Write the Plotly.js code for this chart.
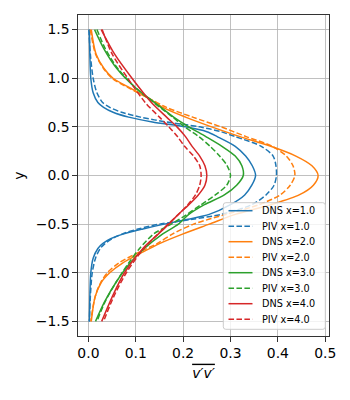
<!DOCTYPE html>
<html>
<head>
<meta charset="utf-8">
<script src="https://cdn.plot.ly/plotly-3.0.1.min.js"></script>
<style>html,body{margin:0;padding:0;background:#fff;}#chart{width:350px;height:400px;}</style>
</head>
<body>
<div id="chart"></div>
<script>
// ---- data ----
const seriesNames = ['DNS x=1.0','PIV x=1.0','DNS x=2.0','PIV x=2.0','DNS x=3.0','PIV x=3.0','DNS x=4.0','PIV x=4.0'];

const y_x1 = [1.5,1.25,1.0,0.85,0.75,0.7,0.65,0.6,0.55,0.5,0.45,0.4,0.3,0.2,0.1,0,-0.1,-0.2,-0.3,-0.4,-0.45,-0.5,-0.55,-0.6,-0.65,-0.7,-0.75,-0.85,-1.0,-1.25,-1.5];
const dns_x1 = [0.002,0.003,0.005,0.01,0.02,0.032,0.052,0.085,0.135,0.205,0.25,0.272,0.31,0.332,0.346,0.353,0.345,0.33,0.3,0.255,0.21,0.16,0.115,0.075,0.047,0.03,0.02,0.01,0.005,0.003,0.002];
const piv_x1 = [0.001,0.004,0.01,0.018,0.03,0.045,0.07,0.11,0.165,0.235,0.28,0.31,0.365,0.39,0.396,0.397,0.392,0.375,0.345,0.28,0.22,0.15,0.105,0.072,0.05,0.035,0.025,0.015,0.008,0.004,0.002];

const y_x2 = [1.5,1.25,1.1,1.0,0.9,0.8,0.7,0.6,0.5,0.4,0.3,0.2,0.1,0,-0.1,-0.2,-0.3,-0.4,-0.5,-0.6,-0.7,-0.8,-0.9,-1.0,-1.1,-1.25,-1.5];
const dns_x2 = [0.006,0.016,0.033,0.052,0.088,0.125,0.157,0.205,0.26,0.32,0.385,0.438,0.472,0.485,0.475,0.445,0.385,0.31,0.255,0.2,0.15,0.11,0.072,0.045,0.027,0.014,0.006];
const piv_x2 = [0.004,0.015,0.032,0.05,0.085,0.125,0.165,0.22,0.28,0.333,0.388,0.418,0.432,0.436,0.426,0.405,0.36,0.29,0.222,0.178,0.145,0.102,0.064,0.04,0.026,0.014,0.005];

const y_x3 = [1.5,1.3,1.1,0.9,0.75,0.6,0.5,0.4,0.3,0.2,0.1,0,-0.1,-0.2,-0.3,-0.4,-0.5,-0.6,-0.75,-0.9,-1.1,-1.3,-1.5];
const dns_x3 = [0.013,0.033,0.06,0.1,0.14,0.18,0.212,0.248,0.282,0.31,0.324,0.327,0.313,0.287,0.245,0.212,0.19,0.157,0.118,0.088,0.058,0.034,0.015];
const piv_x3 = [0.018,0.036,0.062,0.1,0.138,0.178,0.203,0.233,0.257,0.277,0.293,0.3,0.292,0.268,0.238,0.208,0.175,0.138,0.108,0.085,0.058,0.035,0.018];

const y_x4 = [1.5,1.25,1.0,0.75,0.6,0.5,0.4,0.3,0.2,0.1,0,-0.1,-0.2,-0.3,-0.4,-0.5,-0.6,-0.75,-1.0,-1.25,-1.5];
const dns_x4 = [0.027,0.055,0.092,0.133,0.165,0.187,0.205,0.219,0.235,0.246,0.25,0.246,0.232,0.212,0.19,0.17,0.148,0.115,0.076,0.05,0.028];
const piv_x4 = [0.029,0.05,0.083,0.12,0.15,0.17,0.188,0.203,0.222,0.235,0.238,0.235,0.226,0.21,0.19,0.168,0.147,0.117,0.08,0.053,0.032];

const xTicks = [0.0,0.1,0.2,0.3,0.4,0.5];
const yTicks = [-1.5,-1.0,-0.5,0.0,0.5,1.0,1.5];

// ---- styling ----
const colors = ['#1f77b4','#1f77b4','#ff7f0e','#ff7f0e','#2ca02c','#2ca02c','#d62728','#d62728'];
const dashes = ['solid','5.55px,2.4px','solid','5.55px,2.4px','solid','5.55px,2.4px','solid','5.55px,2.4px'];
const xs = [dns_x1,piv_x1,dns_x2,piv_x2,dns_x3,piv_x3,dns_x4,piv_x4];
const ys = [y_x1,y_x1,y_x2,y_x2,y_x3,y_x3,y_x4,y_x4];

const traces = xs.map((xv,i)=>({
  type:'scatter', mode:'lines', name:seriesNames[i],
  x:xv, y:ys[i],
  line:{color:colors[i], width:1.5, dash:dashes[i], shape:'spline', smoothing:0.8},
  showlegend:false, hoverinfo:'skip'
}));

const FONT = 'DejaVu Sans, sans-serif';
// plot area in pixels (for the hand-built matplotlib-style legend)
const L=78, W=251, T=15, H=321;
const px = v => (v-L)/W;
const py = v => (T+H-v)/H;

const shapes = [];
const annotations = [];
// legend frame with rounded corners
(function(){
  const x0=px(223.3), x1=px(325.3), y0=py(329.3), y1=py(202.7);
  const rx=2.5/W, ry=2.5/H;
  const p = `M ${x0+rx},${y1} L ${x1-rx},${y1} Q ${x1},${y1} ${x1},${y1-ry} L ${x1},${y0+ry} Q ${x1},${y0} ${x1-rx},${y0} L ${x0+rx},${y0} Q ${x0},${y0} ${x0},${y0+ry} L ${x0},${y1-ry} Q ${x0},${y1} ${x0+rx},${y1} Z`;
  shapes.push({type:'path', xref:'paper', yref:'paper', path:p, fillcolor:'rgba(255,255,255,0.8)', line:{color:'#cccccc', width:1}, layer:'above'});
})();
seriesNames.forEach((nm,i)=>{
  const yc = 210.7 + 15.5*i;
  shapes.push({type:'line', xref:'paper', yref:'paper', x0:px(228.5), x1:px(252.5), y0:py(yc), y1:py(yc),
    line:{color:colors[i], width:1.5, dash:dashes[i]}, layer:'above'});
  annotations.push({xref:'paper', yref:'paper', x:px(260), y:py(yc), xanchor:'left', yanchor:'middle',
    text:nm, showarrow:false, font:{family:FONT, size:9.7, color:'#000'}});
});

const axisCommon = {
  showgrid:true, gridcolor:'#b0b0b0', gridwidth:0.8,
  showline:true, linecolor:'#000', linewidth:0.8, mirror:true,
  ticks:'outside', ticklen:4.9, tickwidth:0.8, tickcolor:'#000',
  tickfont:{family:FONT, size:13.9, color:'#000'},
  zeroline:false, tickformat:'.1f', automargin:false
};

const layout = {
  width:350, height:400,
  margin:{l:L, r:350-L-W, t:T, b:400-T-H, pad:0},
  paper_bgcolor:'#fff', plot_bgcolor:'#fff',
  showlegend:false,
  font:{family:FONT, color:'#000'},
  xaxis:Object.assign({}, axisCommon, {
    range:[-0.022,0.508], tickmode:'array', tickvals:xTicks,
    title:{text:'<span style="text-decoration:overline"><i>v′v′</i></span>', font:{family:FONT, size:13.9, color:'#000'}, standoff:7}
  }),
  yaxis:Object.assign({}, axisCommon, {
    range:[-1.65,1.65], tickmode:'array', tickvals:yTicks,
    title:{text:'y', font:{family:FONT, size:13.9, color:'#000'}, standoff:7}
  }),
  shapes:shapes,
  annotations:annotations
};

Plotly.newPlot('chart', traces, layout, {displayModeBar:false, staticPlot:true});
</script>
</body>
</html>
